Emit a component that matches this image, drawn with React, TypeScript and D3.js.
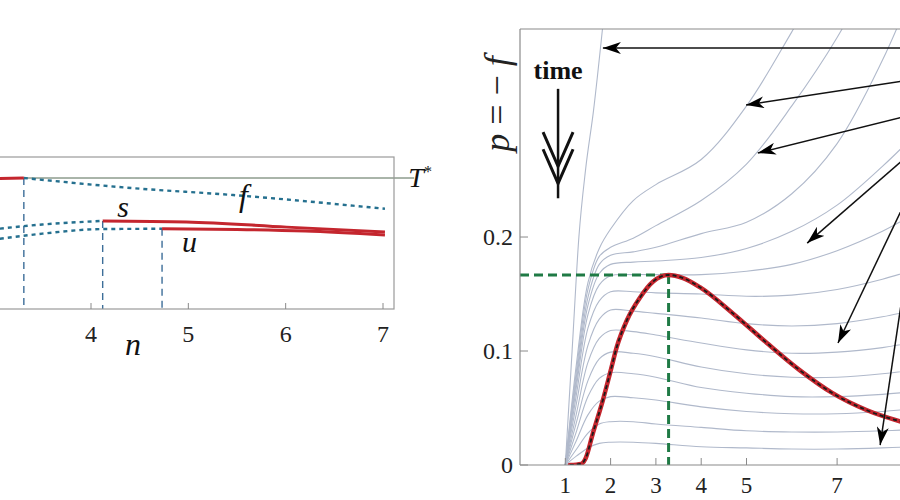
import * as d3 from "d3";

// ---------- left panel (n vs T) ----------
const leftTicks = [4, 5, 6, 7];
const tStar = 1.0;
const fRedN = [2.9, 3.31];
const fRedV = [0.998, 1.0];
const fDotN = [3.31, 4.43, 5.46, 7.02];
const fDotV = [1.0, 0.969, 0.948, 0.906];
const sDotN = [2.9, 3.5, 4.12];
const sDotV = [0.84, 0.858, 0.869];
const sRedN = [4.12, 4.98, 6.01, 7.02];
const sRedV = [0.869, 0.866, 0.85, 0.835];
const uDotN = [2.9, 3.5, 4.1, 4.73];
const uDotV = [0.808, 0.83, 0.844, 0.845];
const uRedN = [4.73, 5.5, 6.2, 7.02];
const uRedV = [0.845, 0.843, 0.838, 0.826];
const dropN = [3.31, 4.12, 4.73];
const dropV = [1.0, 0.869, 0.845];

// ---------- right panel (p = -f vs n) ----------
const xTicksR = [1, 2, 3, 4, 5, 7];
const yTicksR = [0, 0.1, 0.2];
const fanN = [1, 1.25, 1.5, 1.75, 2, 2.5, 3, 4, 5, 6, 7, 8, 8.6];
const fan1 = [0, 0.008, 0.015, 0.019, 0.02, 0.02, 0.019, 0.016, 0.015, 0.014, 0.014, 0.015, 0.016];
const fan2 = [0, 0.014, 0.028, 0.036, 0.038, 0.038, 0.036, 0.033, 0.03, 0.029, 0.029, 0.03, 0.031];
const fan3 = [0, 0.022, 0.044, 0.056, 0.06, 0.059, 0.057, 0.051, 0.047, 0.045, 0.045, 0.047, 0.049];
const fan4 = [0, 0.03, 0.06, 0.076, 0.081, 0.08, 0.077, 0.068, 0.063, 0.06, 0.06, 0.062, 0.064];
const fan5 = [0, 0.038, 0.074, 0.093, 0.099, 0.098, 0.095, 0.086, 0.08, 0.077, 0.077, 0.08, 0.083];
const fan6 = [0, 0.046, 0.09, 0.111, 0.118, 0.117, 0.114, 0.107, 0.101, 0.098, 0.099, 0.103, 0.107];
const fan7 = [0, 0.055, 0.105, 0.128, 0.136, 0.135, 0.133, 0.129, 0.124, 0.122, 0.124, 0.13, 0.135];
const fan8 = [0, 0.063, 0.12, 0.144, 0.152, 0.152, 0.151, 0.15, 0.148, 0.149, 0.154, 0.163, 0.17];
const fan9 = [0, 0.07, 0.132, 0.158, 0.166, 0.167, 0.167, 0.167, 0.17, 0.176, 0.188, 0.205, 0.218];
const fan10 = [0, 0.075, 0.14, 0.168, 0.176, 0.178, 0.179, 0.182, 0.19, 0.205, 0.228, 0.262, 0.285];
const fan11 = [0, 0.079, 0.147, 0.176, 0.184, 0.187, 0.191, 0.203, 0.213, 0.238, 0.282, 0.355, 0.41];
const fan12 = [0, 0.084, 0.154, 0.183, 0.191, 0.199, 0.21, 0.232, 0.264, 0.315, 0.375, 0.45, 0.5];
const fan13 = [0, 0.09, 0.16, 0.19, 0.207, 0.232, 0.246, 0.268, 0.315, 0.38, 0.45, 0.52, 0.56];
const fanCurves = [fan1, fan2, fan3, fan4, fan5, fan6, fan7, fan8, fan9, fan10, fan11, fan12, fan13];
const steepN = [1, 1.15, 1.3, 1.45, 1.62, 1.84];
const steepV = [0, 0.1, 0.2, 0.26, 0.31, 0.39];
const redN = [1.1, 1.35, 1.45, 1.61, 1.83, 1.99, 2.14, 2.36, 2.65, 2.94, 3.28, 3.6, 3.97, 4.7, 5.45, 6.18, 6.9, 7.66, 8.6];
const redV = [0, 0.001, 0.006, 0.028, 0.057, 0.081, 0.104, 0.127, 0.147, 0.161, 0.1667, 0.164, 0.156, 0.133, 0.107, 0.083, 0.063, 0.048, 0.036];
const peakN = 3.28;
const peakV = 0.1667;
// arrows: [tailN, tailV, headN, headV]
const arrows = [
  [8.45, 0.3658, 1.83, 0.3658],
  [8.45, 0.3368, 4.99, 0.3158],
  [8.45, 0.3053, 5.25, 0.2737],
  [8.45, 0.2675, 6.34, 0.1947],
  [8.45, 0.2263, 7.02, 0.107],
  [8.45, 0.1509, 7.95, 0.0175],
];

const serif = "'Liberation Serif', 'DejaVu Serif', serif";

export default function App() {
  // left scales
  const xL = d3.scaleLinear().domain([4, 7]).range([91, 383]);
  const yL = d3.scaleLinear().domain([0.6, 1.0]).range([309, 178]);
  const lineL = (ns: number[], vs: number[]) =>
    d3
      .line<number>()
      .x((_, i) => xL(ns[i]))
      .y((v) => yL(v))
      .curve(d3.curveMonotoneX)(vs) as string;

  // right scales
  const xR = d3.scaleLinear().domain([0, 9]).range([520, 927.7]);
  const yR = d3.scaleLinear().domain([0, 0.3825]).range([465, 29]);
  const lineR = (ns: number[], vs: number[], smooth = false) =>
    d3
      .line<number>()
      .x((_, i) => xR(ns[i]))
      .y((v) => yR(v))
      .curve(smooth ? d3.curveCatmullRom.alpha(0.5) : d3.curveMonotoneX)(vs) as string;

  const frameL = {x0: xL(2.5), x1: xL(7.113), y0: 157, y1: 309};
  const dotBlue = "#25708f";
  const dashBlue = "#3d6e99";
  const red = "#c4262e";
  const green = "#1f7a45";
  const fanColor = "#b0b9cb";
  const axisGray = "#8a8a8a";

  return (
    <div style={{position: "absolute", left: 0, top: 0}}>
      <svg width={900} height={500} style={{display: "block", background: "#fff"}}>
        <defs>
          <marker id="ah" markerUnits="userSpaceOnUse" markerWidth={20} markerHeight={12} refX={18} refY={6} orient="auto">
            <path d="M0,0 L18,6 L0,12 L5,6 Z" fill="#000" />
          </marker>
          <clipPath id="clipR">
            <rect x={xR(0)} y={yR(0.3825)} width={900 - xR(0)} height={yR(0) - yR(0.3825)} />
          </clipPath>
          <clipPath id="clipL">
            <rect x={frameL.x0} y={frameL.y0} width={frameL.x1 - frameL.x0} height={frameL.y1 - frameL.y0} />
          </clipPath>
        </defs>

        {/* ===== left panel ===== */}
        <line x1={frameL.x0} x2={xL(7.32)} y1={yL(tStar)} y2={yL(tStar)} stroke="#556b55" strokeWidth={1} />
        <g clipPath="url(#clipL)">
          {dropN.map((n, i) => (
            <line key={i} x1={xL(n)} x2={xL(n)} y1={yL(dropV[i])} y2={frameL.y1} stroke={dashBlue} strokeWidth={1.4} strokeDasharray="7,5" />
          ))}
          <path d={lineL(fDotN, fDotV)} fill="none" stroke={dotBlue} strokeWidth={2.4} strokeDasharray="4,4" />
          <path d={lineL(sDotN, sDotV)} fill="none" stroke={dotBlue} strokeWidth={2.4} strokeDasharray="4,4" />
          <path d={lineL(uDotN, uDotV)} fill="none" stroke={dotBlue} strokeWidth={2.4} strokeDasharray="4,4" />
          <path d={lineL(fRedN, fRedV)} fill="none" stroke={red} strokeWidth={3} />
          <path d={lineL(uRedN, uRedV)} fill="none" stroke={red} strokeWidth={3} />
          <path d={lineL(sRedN, sRedV)} fill="none" stroke={red} strokeWidth={3} />
        </g>
        <rect x={frameL.x0} y={frameL.y0} width={frameL.x1 - frameL.x0} height={frameL.y1 - frameL.y0} fill="none" stroke="#9a9a9a" strokeWidth={1.2} />
        {leftTicks.map((t) => (
          <g key={t}>
            <line x1={xL(t)} x2={xL(t)} y1={frameL.y1} y2={frameL.y1 - 6} stroke={axisGray} />
            <text x={xL(t)} y={342} textAnchor="middle" fontFamily={serif} fontSize={24} fill="#222">
              {t}
            </text>
          </g>
        ))}
        <text x={xL(4.35)} y={355} fontFamily={serif} fontStyle="italic" fontSize={32} fill="#111">n</text>
        <text x={xL(4.27)} y={yL(0.881)} fontFamily={serif} fontStyle="italic" fontSize={30} fill="#111">s</text>
        <text x={xL(4.935)} y={yL(0.774)} fontFamily={serif} fontStyle="italic" fontSize={30} fill="#111">u</text>
        <text x={xL(5.52)} y={yL(0.9145)} fontFamily={serif} fontStyle="italic" fontSize={32} fill="#111">f</text>
        <text x={xL(7.26)} y={yL(0.9725)} fontFamily={serif} fontStyle="italic" fontSize={28} fill="#111">
          T<tspan dy={-10} fontSize={16} fontStyle="normal">*</tspan>
        </text>

        {/* ===== right panel ===== */}
        <g clipPath="url(#clipR)">
          {fanCurves.map((c, i) => (
            <path key={i} d={lineR(fanN, c, true)} fill="none" stroke={fanColor} strokeWidth={1.1} />
          ))}
          <path d={lineR(steepN, steepV)} fill="none" stroke={fanColor} strokeWidth={1.1} />
          <line x1={xR(0)} x2={xR(peakN)} y1={yR(peakV)} y2={yR(peakV)} stroke={green} strokeWidth={3} strokeDasharray="9,5" />
          <line x1={xR(peakN)} x2={xR(peakN)} y1={yR(peakV)} y2={yR(0)} stroke={green} strokeWidth={3} strokeDasharray="9,5" />
          <path d={lineR(redN, redV)} fill="none" stroke={red} strokeWidth={4.5} strokeLinecap="round" />
          <path d={lineR(redN, redV)} fill="none" stroke="#1a1a1a" strokeWidth={1.8} strokeDasharray="4,3" />
        </g>
        <line x1={xR(0)} x2={xR(0)} y1={yR(0)} y2={yR(0.3825)} stroke={axisGray} strokeWidth={1.2} />
        <line x1={xR(0)} x2={900} y1={yR(0.3825)} y2={yR(0.3825)} stroke={axisGray} strokeWidth={1.2} />
        <line x1={xR(0)} x2={900} y1={yR(0)} y2={yR(0)} stroke={axisGray} strokeWidth={1.2} />
        {yTicksR.map((t) => (
          <g key={t}>
            <line x1={xR(0)} x2={xR(0) + 8} y1={yR(t)} y2={yR(t)} stroke={axisGray} />
            <text x={513} y={yR(t) + 8} textAnchor="end" fontFamily={serif} fontSize={24} fill="#222">
              {t === 0 ? "0" : t.toFixed(1)}
            </text>
          </g>
        ))}
        {xTicksR.map((t) => (
          <g key={t}>
            <line x1={xR(t)} x2={xR(t)} y1={yR(0)} y2={yR(0) - 7} stroke={axisGray} />
            <text x={xR(t)} y={493} textAnchor="middle" fontFamily={serif} fontSize={23} fill="#222">
              {t}
            </text>
          </g>
        ))}
        <text transform="translate(509,104) rotate(-90)" textAnchor="middle" fontFamily={serif} fontSize={36} fill="#222">
          <tspan fontStyle="italic">p</tspan> = − <tspan fontStyle="italic">f</tspan>
        </text>

        {/* time indicator */}
        <text x={xR(0.84)} y={yR(0.339)} textAnchor="middle" fontFamily={serif} fontWeight="bold" fontSize={26} fill="#111">
          time
        </text>
        <line x1={xR(0.84)} x2={xR(0.84)} y1={yR(0.33)} y2={yR(0.234)} stroke="#111" strokeWidth={2.5} />
        {[0.262, 0.247].map((v, i) => (
          <polyline
            key={i}
            points={`${xR(0.84) - 15},${yR(v + 0.03)} ${xR(0.84)},${yR(v)} ${xR(0.84) + 15},${yR(v + 0.03)}`}
            fill="none"
            stroke="#111"
            strokeWidth={3}
          />
        ))}

        {/* arrows from off-frame labels */}
        {arrows.map((a, i) => (
          <line key={i} x1={xR(a[0])} y1={yR(a[1])} x2={xR(a[2])} y2={yR(a[3])} stroke="#111" strokeWidth={1.5} markerEnd="url(#ah)" />
        ))}
      </svg>
    </div>
  );
}
